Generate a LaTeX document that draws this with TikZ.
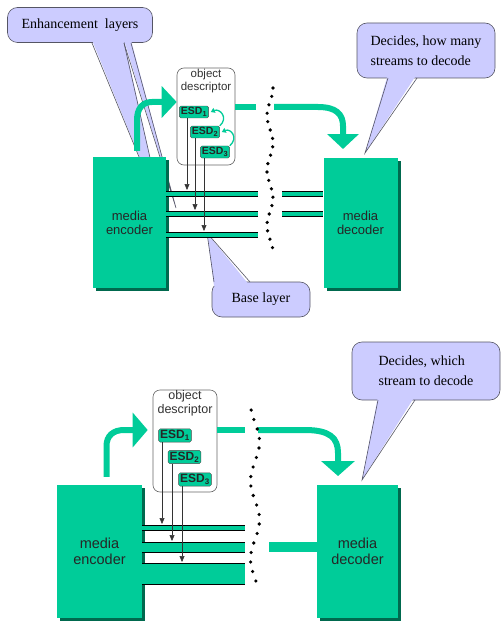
\documentclass[tikz,border=0pt]{standalone}
\usepackage{fontspec}
\setmainfont{Liberation Serif}
\setsansfont{Liberation Sans}
\usetikzlibrary{arrows.meta, shadows}

\definecolor{medgreen}{RGB}{0,204,153}
\definecolor{deepgreen}{RGB}{0,105,78}
\definecolor{lavender}{RGB}{204,204,255}
\definecolor{noteline}{RGB}{85,85,100}

\tikzset{
  coder/.style={fill=medgreen, inner sep=0pt, align=center, text=black!85,
    font=\sffamily\fontsize{13}{14}\selectfont,
    drop shadow={shadow xshift=3pt, shadow yshift=-3pt, fill=deepgreen, opacity=1}},
  note/.style={fill=lavender, draw=noteline, line width=0.6pt, rounded corners=10pt,
    inner sep=0pt, font=\fontsize{14}{20}\selectfont},
  pointer/.style={draw=noteline, line width=0.6pt},
  odbox/.style={draw=black!60, fill=white, line width=0.6pt, rounded corners=7pt, inner sep=0pt},
  odtext/.style={inner sep=1pt, align=center, text=black!80},
  esd/.style={fill=medgreen, draw=black!70, line width=0.4pt, rounded corners=1.5pt,
    inner sep=1.5pt, text=black!85},
  stream/.style={draw=black, line width=0.8pt},
  thinarrow/.style={draw=black!80, line width=0.5pt, -{Triangle[width=5pt,length=6pt]}},
  esdarrow/.style={draw=medgreen, line width=1.3pt, -{Triangle[width=5pt,length=4pt]}},
  bigline/.style={draw=medgreen, line width=6pt},
  bigarrow/.style={draw=medgreen, line width=6pt,
    -{Triangle[width=31pt,length=15pt]}},
}

\begin{document}
\begin{tikzpicture}[x=1pt, y=-1pt]
  \useasboundingbox (0,0) rectangle (501,623);

  \node[note, minimum width=145pt, minimum height=35pt] (enhnote) at (80,25) {Enhancement\ \ layers};
  \fill[lavender] (92,40) -- (163,215) -- (124,40) -- cycle;
  \draw[pointer] (92,43) -- (163,215) -- (124,43);
  \fill[lavender] (124,40) -- (176,208) -- (131,40) -- cycle;
  \draw[pointer] (124,43) -- (176,208) -- (131,43);

  \node[note, minimum width=98pt, minimum height=35pt] (basenote) at (261,299.5) {Base layer};
  \fill[lavender] (214,286) -- (207,233) -- (250,286) -- cycle;
  \draw[pointer] (214,282) -- (207,233) -- (250,282);

  \node[note, minimum width=138pt, minimum height=55pt, align=left] (note1) at (426,50.5) {Decides, how many\\streams to decode};
  \fill[lavender] (388,74) -- (365,153) -- (417,74) -- cycle;
  \draw[pointer] (388,78) -- (365,153) -- (417,78);

  \node[coder, minimum width=73pt, minimum height=131pt] (enc1) at (129.5,222.5) {media\\encoder};
  \node[coder, minimum width=74pt, minimum height=130pt] (dec1) at (360.5,223) {media\\decoder};

  \foreach \y in {191,211,232} {
    \fill[medgreen] (enc1.east |- 0,\y) rectangle (258,\y+5);
    \draw[stream] (enc1.east |- 0,\y) -- (258,\y) (enc1.east |- 0,\y+5) -- (258,\y+5);
  }
  \foreach \y in {191,211} {
    \fill[medgreen] (282,\y) rectangle (dec1.west |- 0,\y+5);
    \draw[stream] (282,\y) -- (dec1.west |- 0,\y) (282,\y+5) -- (dec1.west |- 0,\y+5);
  }

  \node[odbox, minimum width=58pt, minimum height=97pt] (od1) at (206,116.5) {};
  \node[odtext, anchor=north, font=\sffamily\fontsize{11.5}{13}\selectfont] (odt1) at (od1.north) {object\\descriptor};
  \node[esd, font=\sffamily\bfseries\fontsize{10.5}{11}\selectfont] (e11) at (194,112) {ESD\textsubscript{1}};
  \node[esd, font=\sffamily\bfseries\fontsize{10.5}{11}\selectfont] (e12) at (205,132) {ESD\textsubscript{2}};
  \node[esd, font=\sffamily\bfseries\fontsize{10.5}{11}\selectfont] (e13) at (215,152) {ESD\textsubscript{3}};

  \draw[thinarrow] (187,0 |- e11.south) -- (187,190);
  \draw[thinarrow] (195,0 |- e12.south) -- (195,210);
  \draw[thinarrow] (204,0 |- e13.south) -- (204,231);
  \draw[esdarrow] (e12.north east) .. controls +(9,-8) and +(9,-4) .. ([xshift=2pt]e11.east);
  \draw[esdarrow] (e13.north east) .. controls +(9,-8) and +(9,-4) .. ([xshift=2pt]e12.east);

  \draw[bigarrow] ([xshift=7.5pt,yshift=6pt]enc1.north) -- (137,120) .. controls (137,108) and (143,102) .. (152,102) -- (od1.west |- 0,102);
  \draw[bigline] (od1.east |- 0,107) -- (256,107);
  \draw[bigarrow] (274,107) -- (318,107) .. controls (336,107) and (343,114) .. (343,126) -- (343,149);

  \foreach \i in {0,...,19}
    \fill ({270+3*cos(\i*8.4/55*360)}, {88+8.4*\i}) circle (1.8pt);

  \node[note, minimum width=148pt, minimum height=58pt, align=left] (note2) at (426,371) {Decides, which\\stream to decode};
  \fill[lavender] (378,396) -- (362,480) -- (415,396) -- cycle;
  \draw[pointer] (378,400) -- (362,480) -- (415,400);

  \node[coder, minimum width=85pt, minimum height=133pt, font=\sffamily\fontsize{14.5}{15.5}\selectfont] (enc2) at (99.5,551.5) {media\\encoder};
  \node[coder, minimum width=81pt, minimum height=133pt, font=\sffamily\fontsize{14.5}{15.5}\selectfont] (dec2) at (357.5,551.5) {media\\decoder};

  \fill[medgreen] (enc2.east |- 0,525) rectangle (245,530);
  \fill[medgreen] (enc2.east |- 0,542) rectangle (245,552);
  \fill[medgreen] (enc2.east |- 0,563) rectangle (245,584);
  \foreach \y in {525,530,542,552,563,584}
    \draw[stream] (enc2.east |- 0,\y) -- (245,\y);
  \fill[medgreen] (269,542) rectangle (dec2.west |- 0,552);

  \node[odbox, minimum width=64pt, minimum height=102pt] (od2) at (185,441) {};
  \node[odtext, anchor=north, font=\sffamily\fontsize{12.5}{14}\selectfont] (odt2) at (od2.north) {object\\descriptor};
  \node[esd, font=\sffamily\bfseries\fontsize{12}{13}\selectfont] (e21) at (175,435.5) {ESD\textsubscript{1}};
  \node[esd, font=\sffamily\bfseries\fontsize{12}{13}\selectfont] (e22) at (184.5,457) {ESD\textsubscript{2}};
  \node[esd, font=\sffamily\bfseries\fontsize{12}{13}\selectfont] (e23) at (195,479.5) {ESD\textsubscript{3}};

  \draw[thinarrow] (162,0 |- e21.south) -- (162,524);
  \draw[thinarrow] (172,0 |- e22.south) -- (172,541);
  \draw[thinarrow] (182,0 |- e23.south) -- (182,562);

  \draw[bigarrow, -{Triangle[width=34pt,length=15pt]}] ([xshift=7pt,yshift=8pt]enc2.north) -- (106.5,446) .. controls (106.5,436) and (113,430) .. (124,430) -- ([xshift=-5pt]od2.west |- 0,430);
  \draw[bigline] (od2.east |- 0,430) -- (245,430);
  \draw[bigarrow, -{Triangle[width=33pt,length=15pt]}] (258,430) -- (305,430) .. controls (330,430) and (338,438) .. (338,453) -- (338,476);

  \foreach \i in {0,...,18}
    \fill ({255+4.5*cos((410+9.5*\i-520)/78*360)}, {410+9.5*\i}) circle (1.8pt);
\end{tikzpicture}
\end{document}
